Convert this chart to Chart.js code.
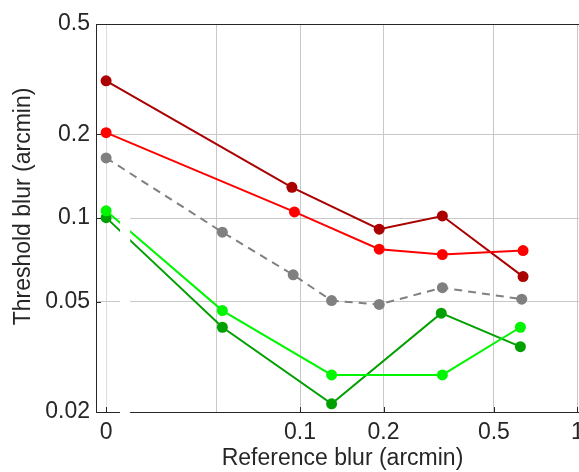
<!DOCTYPE html>
<html><head><meta charset="utf-8">
<script src="https://cdn.jsdelivr.net/npm/chart.js@4"></script>
<style>html,body{margin:0;padding:0;background:#fff;overflow:hidden}canvas{display:block}</style>
</head><body>
<canvas id="c" width="579" height="472"></canvas>
<script>
// ---- data (x = reference blur in arcmin, y = threshold blur in arcmin) ----
const ZERO_AT = 0.02;            // where "0" sits on the log x axis
const xTickValues = [0.02, 0.05, 0.1, 0.2, 0.5, 1];
const xTickLabels = ['0', '', '0.1', '0.2', '0.5', '1'];
const yTickValues = [0.02, 0.05, 0.1, 0.2, 0.5];
const yTickLabels = ['0.02', '0.05', '0.1', '0.2', '0.5'];
const xTitle = 'Reference blur (arcmin)';
const yTitle = 'Threshold blur (arcmin)';

const darkRedX = [0, 0.0935, 0.193, 0.326, 0.637];
const darkRedY = [0.312, 0.129, 0.0911, 0.1017, 0.0615];
const redX = [0, 0.0955, 0.193, 0.326, 0.637];
const redY = [0.203, 0.1052, 0.0772, 0.0738, 0.0763];
const grayX = [0, 0.0525, 0.0945, 0.130, 0.193, 0.326, 0.630];
const grayY = [0.1646, 0.0889, 0.0624, 0.0504, 0.0488, 0.0561, 0.0510];
const darkGreenX = [0, 0.0525, 0.130, 0.323, 0.623];
const darkGreenY = [0.1003, 0.0404, 0.0214, 0.0454, 0.0344];
const lightGreenX = [0, 0.0525, 0.130, 0.326, 0.623];
const lightGreenY = [0.1061, 0.0464, 0.0272, 0.0272, 0.0404];

const pts = (xs, ys) => xs.map((x, i) => ({x: x === 0 ? ZERO_AT : x, y: ys[i]}));

const AXIS = '#262626';
const FAMILY = '"Liberation Sans", Arial, Helvetica, sans-serif';
const FONT = {family: FAMILY, size: 23};

function ds(label, xs, ys, color, dash, order) {
  return {
    label, data: pts(xs, ys), borderColor: color, backgroundColor: color,
    borderWidth: 2, pointRadius: 5.5, pointHoverRadius: 5.5, pointBorderWidth: 0,
    borderDash: dash || [], showLine: true, tension: 0, order
  };
}

const decor = {
  id: 'decor',
  afterDatasetsDraw(chart) {
    const {ctx, chartArea: a, scales: {x, y}} = chart;
    ctx.save();
    // axis break band
    const bx0 = x.getPixelForValue(0.02245), bx1 = x.getPixelForValue(0.02442);
    const by0 = y.getPixelForValue(0.102);
    ctx.fillStyle = '#ffffff';
    ctx.fillRect(bx0, by0, bx1 - bx0, a.bottom + 2 - by0);
    // top box line
    ctx.strokeStyle = AXIS; ctx.lineWidth = 1;
    ctx.beginPath();
    ctx.moveTo(a.left, Math.round(a.top) + 0.5); ctx.lineTo(a.right + 1, Math.round(a.top) + 0.5);
    ctx.stroke();
    // inward tick marks
    ctx.beginPath();
    [0.02, 0.1, 0.2, 0.5, 1].forEach(v => {
      const px = Math.round(x.getPixelForValue(v)) + 0.5;
      ctx.moveTo(px, a.bottom); ctx.lineTo(px, a.bottom - 5);
    });
    yTickValues.forEach(v => {
      const py = Math.round(y.getPixelForValue(v)) + 0.5;
      ctx.moveTo(a.left, py); ctx.lineTo(a.left + 5, py);
    });
    ctx.stroke();
    // axis titles
    ctx.fillStyle = AXIS;
    ctx.font = '23px ' + FAMILY;
    ctx.textAlign = 'center';
    ctx.textBaseline = 'alphabetic';
    ctx.fillText(xTitle, 342.5, 465);
    ctx.translate(29.5, 206.5);
    ctx.rotate(-Math.PI / 2);
    ctx.fillText(yTitle, 0, 0);
    ctx.restore();
  }
};

new Chart(document.getElementById('c'), {
  type: 'line',
  data: {
    datasets: [
      ds('light green', lightGreenX, lightGreenY, 'rgb(0,245,0)', null, 1),
      ds('dark green', darkGreenX, darkGreenY, 'rgb(0,160,0)', null, 2),
      ds('gray', grayX, grayY, 'rgb(128,128,128)', [8, 6], 3),
      ds('red', redX, redY, 'rgb(255,0,0)', null, 4),
      ds('dark red', darkRedX, darkRedY, 'rgb(170,0,0)', null, 5)
    ]
  },
  options: {
    responsive: false, animation: false, devicePixelRatio: 1,
    layout: {autoPadding: false, padding: {left: 0, right: 0, top: 24, bottom: 0}},
    plugins: {legend: {display: false}, tooltip: {enabled: false}},
    scales: {
      x: {
        type: 'logarithmic', min: 0.01839, max: 1.0134,
        afterBuildTicks: s => { s.ticks = xTickValues.map(v => ({value: v})); },
        afterFit: s => { s.paddingLeft = 0; s.paddingRight = 0; s.height = 60; },
        ticks: {
          autoSkip: false, maxRotation: 0, padding: 7, color: AXIS, font: FONT,
          callback: v => xTickLabels[xTickValues.indexOf(v)] ?? ''
        },
        grid: {
          drawTicks: false,
          color: c => (c.tick && c.tick.value === 0.02) ? 'rgb(222,222,222)' : 'rgb(200,200,200)'
        },
        border: {display: true, color: AXIS, width: 1}
      },
      y: {
        type: 'logarithmic', min: 0.02, max: 0.5,
        afterBuildTicks: s => { s.ticks = yTickValues.map(v => ({value: v})); },
        afterFit: s => { s.paddingTop = 0; s.paddingBottom = 0; s.width = 96; },
        ticks: {
          autoSkip: false, padding: 6, color: AXIS, font: FONT,
          callback: v => yTickLabels[yTickValues.indexOf(v)] ?? ''
        },
        grid: {drawTicks: false, color: 'rgb(200,200,200)'},
        border: {display: true, color: AXIS, width: 1}
      }
    }
  },
  plugins: [decor]
});
</script>
</body></html>
